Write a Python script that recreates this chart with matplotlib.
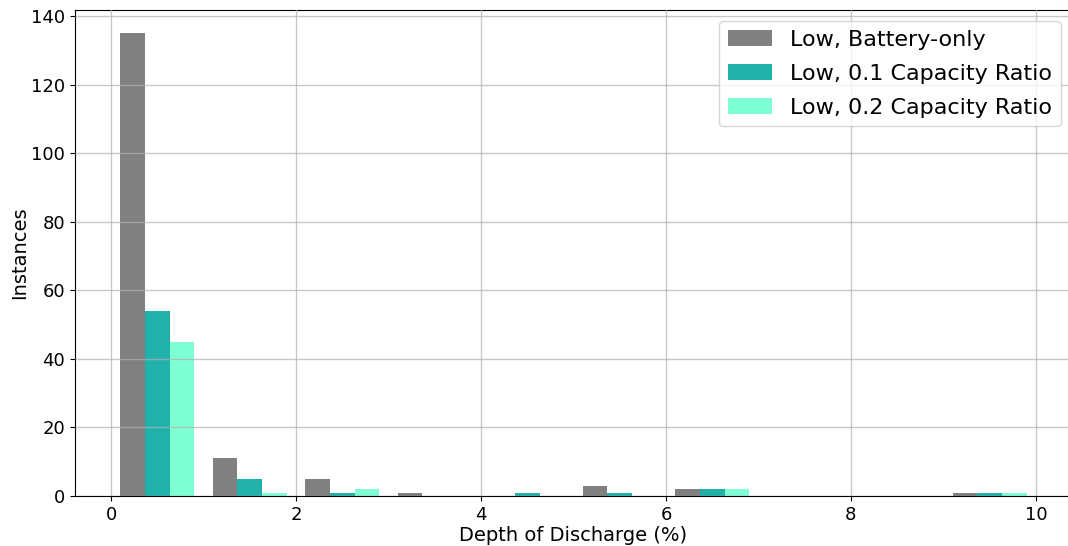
import numpy as np
import matplotlib
matplotlib.use('Agg')
import matplotlib.pyplot as plt

# bin edges (depth of discharge, %)
bin_edges = np.arange(0, 11, 1)
bin_centers = bin_edges[:-1] + 0.5

# counts per bin
battery_only = [135, 11, 5, 1, 0, 3, 2, 0, 0, 1]
ratio_01 = [54, 5, 1, 0, 1, 1, 2, 0, 0, 1]
ratio_02 = [45, 1, 2, 0, 0, 0, 2, 0, 0, 1]

labels = ['Low, Battery-only', 'Low, 0.1 Capacity Ratio', 'Low, 0.2 Capacity Ratio']
colors = ['gray', 'lightseagreen', 'aquamarine']

fig = plt.figure(figsize=(10.68, 5.46), dpi=100)
# right edge runs just past the image, as in the (cropped) original
ax = fig.add_axes([0.0702, 0.0916, 0.9335, 0.8901])

# histogram from bin centres weighted by the counts
ax.hist([bin_centers] * 3, bins=bin_edges,
        weights=[battery_only, ratio_01, ratio_02],
        color=colors, label=labels, rwidth=0.8, zorder=1)

ax.grid(True, color='#b0b0b0', alpha=0.7, linewidth=1, zorder=3)
ax.set_axisbelow(False)
ax.set_xlim(-0.39, 10.39)
ax.set_ylim(0, 141.75)
ax.set_xticks([0, 2, 4, 6, 8, 10])
ax.set_yticks(np.arange(0, 141, 20))
ax.tick_params(labelsize=13)
ax.set_xlabel('Depth of Discharge (%)', fontsize=14, labelpad=1.5)
ax.set_ylabel('Instances', fontsize=14, labelpad=1.5)
ax.legend(fontsize=16, loc='upper right', labelspacing=0.62)

fig.savefig('out.png', dpi=100)
